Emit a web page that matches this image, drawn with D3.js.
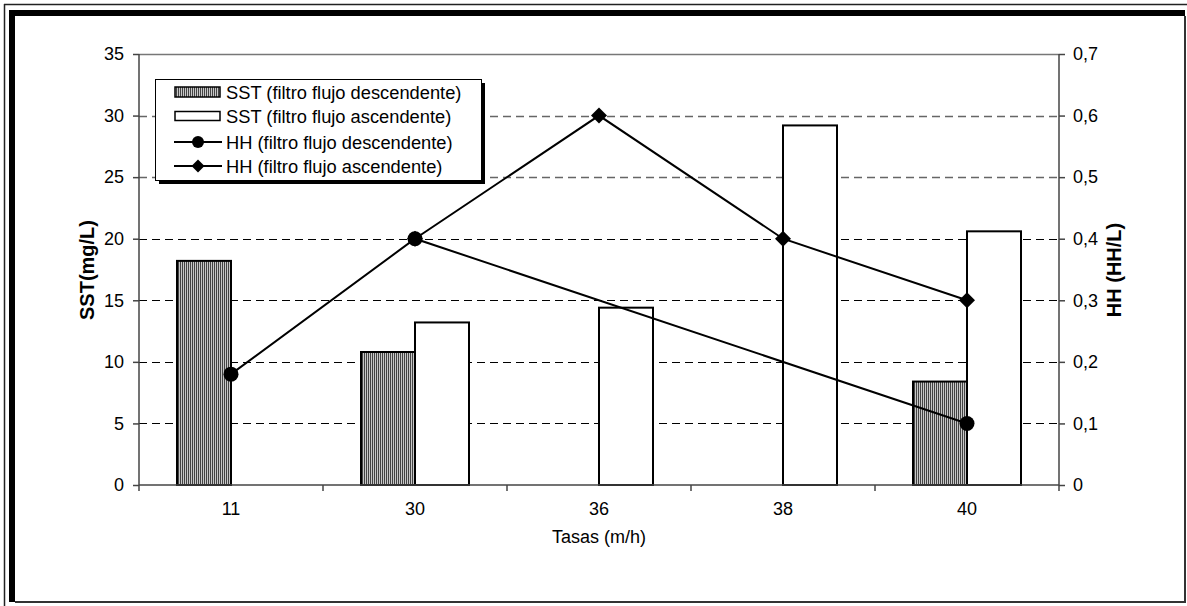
<!DOCTYPE html>
<html><head><meta charset="utf-8">
<script src="https://cdn.jsdelivr.net/npm/d3@7"></script>
<style>body{margin:0;background:#fff}svg{display:block;font-family:"Liberation Sans",Arial,sans-serif}</style>
</head><body>
<svg id="c" width="1187" height="606"></svg>
<script>
const categories = ["11","30","36","38","40"];
const sstDesc = [18.2, 10.8, null, null, 8.4];
const sstAsc  = [null, 13.2, 14.4, 29.2, 20.6];
const hhDesc  = [0.18, 0.4, null, null, 0.1];
const hhAsc   = [null, 0.4, 0.6, 0.4, 0.3];
const leftTicks = [0,5,10,15,20,25,30,35];
const rightTicks = [0,0.1,0.2,0.3,0.4,0.5,0.6,0.7];
const seriesNames = ["SST (filtro flujo descendente)","SST (filtro flujo ascendente)","HH (filtro flujo descendente)","HH (filtro flujo ascendente)"];

const svg = d3.select("#c");
const L = 139, R = 1059, T = 54, B = 485;
const FS = 18;

const defs = svg.append("defs");
const pat = defs.append("pattern").attr("id","hatch").attr("patternUnits","userSpaceOnUse").attr("width",2).attr("height",4);
pat.append("rect").attr("width",2).attr("height",4).attr("fill","#c8c8c8");
pat.append("rect").attr("width",1).attr("height",4).attr("fill","#444");

// frame
svg.append("line").attr("x1",4.5).attr("y1",4).attr("x2",4.5).attr("y2",606).attr("stroke","#222").attr("stroke-width",1.5);
svg.append("line").attr("x1",4).attr("y1",4.5).attr("x2",1187).attr("y2",4.5).attr("stroke","#222").attr("stroke-width",1.5);
svg.append("rect").attr("x",9).attr("y",10).attr("width",6).attr("height",592).attr("fill","#000");
svg.append("rect").attr("x",9).attr("y",10).attr("width",1176).attr("height",6).attr("fill","#000");
svg.append("line").attr("x1",1185).attr("y1",16).attr("x2",1185).attr("y2",603).attr("stroke","#333").attr("stroke-width",2);
svg.append("line").attr("x1",15).attr("y1",602).attr("x2",1186).attr("y2",602).attr("stroke","#333").attr("stroke-width",2);

const x = d3.scaleBand().domain(categories).range([L,R]);
const yL = d3.scaleLinear().domain([0,35]).range([B,T]);
const yR = d3.scaleLinear().domain([0,0.7]).range([B,T]);
const bw = 54;

// gridlines
svg.append("g").selectAll("line").data(leftTicks.filter(v=>v>0 && v<35)).join("line")
  .attr("x1",L).attr("x2",R).attr("y1",d=>Math.round(yL(d))+0.5).attr("y2",d=>Math.round(yL(d))+0.5)
  .attr("stroke",d=>d>=25?"#666":"#000").attr("stroke-width",d=>d>=25?1.5:1).attr("stroke-dasharray","8,5");
svg.append("line").attr("x1",L).attr("x2",R).attr("y1",yL(35)+0.5).attr("y2",yL(35)+0.5).attr("stroke","#777").attr("stroke-width",1.5);

// bars
const cx = c => x(c) + x.bandwidth()/2;
svg.append("g").selectAll("rect").data(categories.map((c,i)=>({c,v:sstDesc[i]})).filter(d=>d.v!=null)).join("rect")
  .attr("x",d=>cx(d.c)-bw).attr("width",bw).attr("y",d=>yL(d.v)).attr("height",d=>B-yL(d.v))
  .attr("fill","url(#hatch)").attr("stroke","#000").attr("stroke-width",2);
svg.append("g").selectAll("rect").data(categories.map((c,i)=>({c,v:sstAsc[i]})).filter(d=>d.v!=null)).join("rect")
  .attr("x",d=>cx(d.c)).attr("width",bw).attr("y",d=>yL(d.v)).attr("height",d=>B-yL(d.v))
  .attr("fill","#fff").attr("stroke","#000").attr("stroke-width",2);

// lines
const line = d3.line().x(d=>cx(d.c)).y(d=>yR(d.v));
const dDesc = categories.map((c,i)=>({c,v:hhDesc[i]})).filter(d=>d.v!=null);
const dAsc = categories.map((c,i)=>({c,v:hhAsc[i]})).filter(d=>d.v!=null);
svg.append("path").attr("d",line(dAsc)).attr("fill","none").attr("stroke","#000").attr("stroke-width",2);
svg.append("path").attr("d",line(dDesc)).attr("fill","none").attr("stroke","#000").attr("stroke-width",2);
const diamond = (px,py,s)=>`M${px},${py-s}L${px+s},${py}L${px},${py+s}L${px-s},${py}Z`;
svg.append("g").selectAll("path").data(dAsc).join("path").attr("d",d=>diamond(cx(d.c),yR(d.v),8)).attr("fill","#000");
svg.append("g").selectAll("circle").data(dDesc).join("circle").attr("cx",d=>cx(d.c)).attr("cy",d=>yR(d.v)).attr("r",7.5).attr("fill","#000");

// axes
const axL = svg.append("g").attr("transform",`translate(${L},0)`)
  .call(d3.axisLeft(yL).tickValues(leftTicks).tickSize(6).tickPadding(9).tickFormat(d3.format("d")));
const axR = svg.append("g").attr("transform",`translate(${R},0)`)
  .call(d3.axisRight(yR).tickValues(rightTicks).tickSize(6).tickPadding(8).tickFormat(d=>d===0?"0":d3.format(".1f")(d).replace(".",",")));
const axB = svg.append("g").attr("transform",`translate(0,${B})`)
  .call(d3.axisBottom(x).tickSize(0).tickPadding(17));
// band boundary ticks
svg.append("g").selectAll("line").data(d3.range(categories.length+1)).join("line")
  .attr("x1",i=>L+i*x.bandwidth()).attr("x2",i=>L+i*x.bandwidth()).attr("y1",B).attr("y2",B+6)
  .attr("stroke","#444").attr("stroke-width",1.5);
[axL,axR,axB].forEach(a=>{
  a.attr("font-size",FS).attr("font-family","Liberation Sans, Arial, sans-serif");
  a.selectAll("path.domain").attr("stroke","#444").attr("stroke-width",1.5);
  a.selectAll(".tick line").attr("stroke","#444").attr("stroke-width",1.5);
  a.selectAll("text").attr("font-size",FS).attr("fill","#000");
});
axL.select("path.domain").attr("d",`M0,${B}V${T}`);
axR.select("path.domain").attr("d",`M0,${B}V${T}`);
axB.select("path.domain").attr("d",`M${L},0H${R}`);

// titles
svg.append("text").attr("transform","translate(87,270) rotate(-90)").attr("text-anchor","middle").attr("dominant-baseline","central")
  .attr("font-size",20).attr("font-weight","bold").text("SST(mg/L)");
svg.append("text").attr("transform","translate(1114,270) rotate(-90)").attr("text-anchor","middle").attr("dominant-baseline","central")
  .attr("font-size",20).attr("font-weight","bold").text("HH (HH/L)");
svg.append("text").attr("x",599).attr("y",537).attr("text-anchor","middle").attr("dominant-baseline","central").attr("font-size",FS).text("Tasas (m/h)");

// legend
const lg = svg.append("g");
lg.append("rect").attr("x",159).attr("y",83).attr("width",326).attr("height",101).attr("fill","#000");
lg.append("rect").attr("x",155.5).attr("y",79.5).attr("width",326).attr("height",101).attr("fill","#fff").attr("stroke","#000").attr("stroke-width",1);
const rows = [92,116,142,166];
lg.append("rect").attr("x",175).attr("y",rows[0]-5).attr("width",45).attr("height",10).attr("fill","url(#hatch)").attr("stroke","#000").attr("stroke-width",1.5);
lg.append("rect").attr("x",175).attr("y",rows[1]-4.5).attr("width",45).attr("height",9).attr("fill","#fff").attr("stroke","#000").attr("stroke-width",1.5);
lg.append("line").attr("x1",174).attr("x2",222).attr("y1",rows[2]).attr("y2",rows[2]).attr("stroke","#000").attr("stroke-width",2);
lg.append("circle").attr("cx",198).attr("cy",rows[2]).attr("r",6).attr("fill","#000");
lg.append("line").attr("x1",174).attr("x2",222).attr("y1",rows[3]).attr("y2",rows[3]).attr("stroke","#000").attr("stroke-width",2);
lg.append("path").attr("d",diamond(198,rows[3],6.5)).attr("fill","#000");
lg.selectAll("text").data(seriesNames).join("text").attr("x",226).attr("y",(d,i)=>rows[i]).attr("dominant-baseline","central")
  .attr("font-size",18.3).text(d=>d);
</script>
</body></html>
